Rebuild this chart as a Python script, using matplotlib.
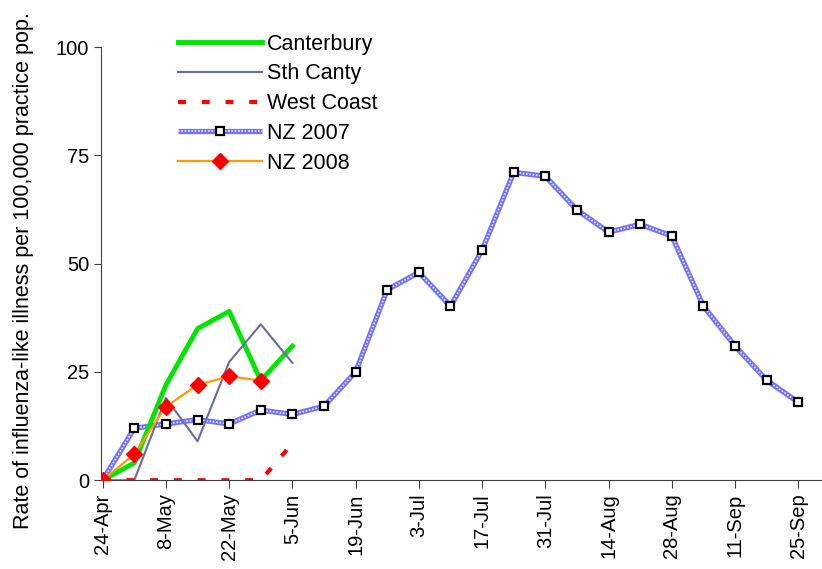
import matplotlib
matplotlib.use("Agg")
import matplotlib.pyplot as plt

plt.rcParams['font.family'] = ['Liberation Sans', 'DejaVu Sans']

# weekly data, week 0 = 24-Apr
tick_labels = ['24-Apr', '8-May', '22-May', '5-Jun', '19-Jun', '3-Jul',
               '17-Jul', '31-Jul', '14-Aug', '28-Aug', '11-Sep', '25-Sep']

canterbury = [0, 4, 22, 35, 39, 23, 31]
sth_canty = [0, 0, 19, 9, 27.3, 36, 27.1]
west_coast = [0, 0, 0, 0, 0, 0, 8.5]
nz_2007 = [0, 12, 13, 14, 13, 16.2, 15.2, 17.1, 25, 44, 48, 40.2, 53.1,
           71.1, 70.2, 62.4, 57.3, 59.1, 56.4, 40.2, 31, 23.1, 18]
nz_2008 = [0, 6, 17, 22, 24, 23]

fig = plt.figure(figsize=(8.22, 5.69), dpi=100)
ax = fig.add_axes([0.123, 0.156, 0.877, 0.761])

# NZ 2007: hatched-looking thick blue line with open squares
wk07 = range(len(nz_2007))
base07, = ax.plot(wk07, nz_2007, color='#7272ff', lw=3.8, zorder=2,
                  solid_capstyle='butt')
dots07, = ax.plot(wk07, nz_2007, color='#e8e8ff', lw=1.2, ls=(0, (1, 1)),
                  zorder=2.1)
mark07, = ax.plot(wk07, nz_2007, ls='none', marker='s', markersize=5.5,
                  markerfacecolor='white', markeredgecolor='black',
                  markeredgewidth=1.6, zorder=2.2)

ln_cant, = ax.plot(range(len(canterbury)), canterbury, color='#00e600',
                   lw=3.5, zorder=3)
ln_sth, = ax.plot(range(len(sth_canty)), sth_canty, color='#6b6ba3',
                  lw=1.5, zorder=3)
ln_wc, = ax.plot(range(len(west_coast)), west_coast, color='red', lw=3,
                 ls=(0, (1.9, 3.8)), zorder=3)
ln_08, = ax.plot(range(len(nz_2008)), nz_2008, color='#ff9a00', lw=1.6,
                 marker='D', markersize=8, markerfacecolor='red',
                 markeredgecolor='red', zorder=4)

ax.set_xlim(-0.05, 22.75)
ax.set_ylim(0, 100)
ax.set_yticks([0, 25, 50, 75, 100])
ax.set_xticks(range(0, 23, 2))
ax.set_xticklabels(tick_labels, rotation=90)
ax.tick_params(axis='both', labelsize=14.5, colors='#404040',
               labelcolor='black', direction='out')
ax.tick_params(axis='x', length=6)
ax.tick_params(axis='y', length=5)
for side in ['top', 'right']:
    ax.spines[side].set_visible(False)
for side in ['left', 'bottom']:
    ax.spines[side].set_color('#404040')

fig.text(0.029, 0.525, 'Rate of influenza-like illness per 100,000 practice pop.',
         rotation=90, fontsize=15.5, ha='center', va='center')

handles = [ln_cant, ln_sth, ln_wc, (base07, dots07, mark07), ln_08]
labels = ['Canterbury', 'Sth Canty', 'West Coast', 'NZ 2007', 'NZ 2008']
fig.legend(handles, labels, loc='upper left', bbox_to_anchor=(0.203, 0.96),
           frameon=False, fontsize=15.5, handlelength=3.9, handletextpad=0.23,
           labelspacing=0.41, numpoints=1, borderpad=0)

fig.savefig('out.png', dpi=100)
